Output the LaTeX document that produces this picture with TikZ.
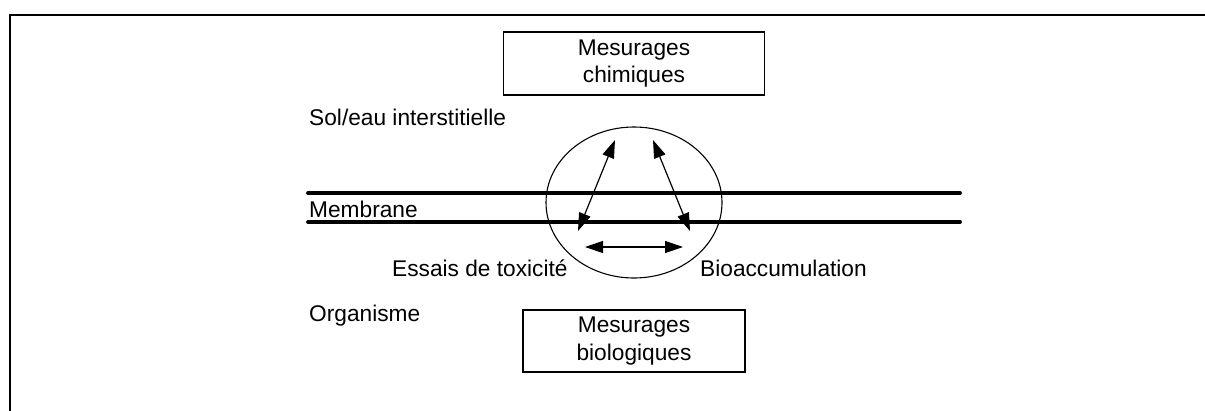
\documentclass[tikz,border=0pt]{standalone}
\usepackage{fontspec}
\setmainfont{Liberation Sans}
\usetikzlibrary{arrows.meta,shapes.geometric}
\begin{document}
\begin{tikzpicture}[x=1pt,y=-1pt,
  lbl/.style={font=\fontsize{22.7}{27}\selectfont, inner sep=0pt},
  boxnode/.style={draw, line width=1.4pt, align=center, font=\fontsize{22.7}{27.5}\selectfont, inner sep=0pt},
  membr/.style={line width=3.8pt, line cap=round},
  dbl/.style={line width=1.2pt, {Triangle[length=18pt,width=12pt]}-{Triangle[length=18pt,width=12pt]}}]
\useasboundingbox (0,0) rectangle (1205,410);
\fill[white] (0,0) rectangle (1205,410);
\draw[line width=2pt] (10,411) -- (10,15) -- (1206,15);
\node[boxnode, minimum width=261pt, minimum height=63pt] (chem) at (634,63.5) {Mesurages\\chimiques};
\node[boxnode, minimum width=222pt, minimum height=62pt] (bio) at (634,341) {Mesurages\\biologiques};
\node[lbl, anchor=west] (sol) at (309,117) {Sol/eau interstitielle};
\node[lbl, anchor=west] (mem) at (309,209) {Membrane};
\node[lbl, anchor=west] (org) at (309,316) {Organisme};
\node[lbl, anchor=west] (ess) at (392,268) {Essais de toxicité};
\node[lbl, anchor=west] (bioacc) at (700,268) {Bioaccumulation};
\coordinate (m1a) at (308,193);
\coordinate (m1b) at (960,193);
\coordinate (m2a) at (308,222);
\coordinate (m2b) at (960,222);
\draw[membr] (m1a) -- (m1b);
\draw[membr] (m2a) -- (m2b);
\node[draw, ellipse, line width=1.1pt, minimum width=176pt, minimum height=151pt, inner sep=0pt] (ell) at (634,202.5) {};
\coordinate (la) at (615,140);
\coordinate (lb) at (578,231);
\coordinate (ra) at (653,140);
\coordinate (rb) at (690,231);
\coordinate (ha) at (585,247);
\coordinate (hb) at (683,247);
\draw[dbl] (la) -- (lb);
\draw[dbl] (ra) -- (rb);
\draw[dbl] (ha) -- (hb);
\end{tikzpicture}
\end{document}
